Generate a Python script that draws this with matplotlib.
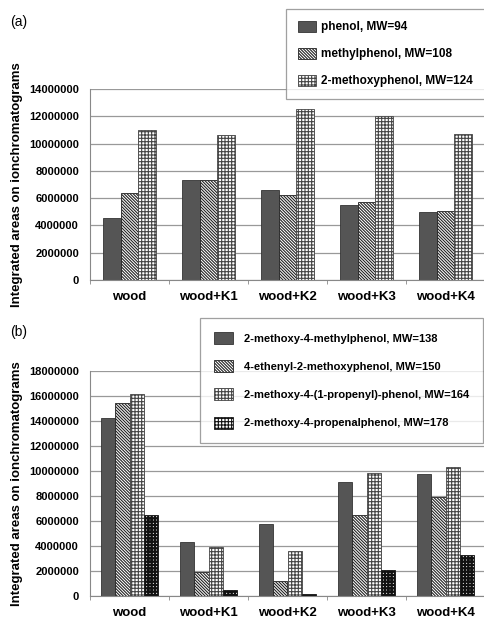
import numpy as np
import matplotlib
matplotlib.use("Agg")
from matplotlib import pyplot as plt

plt.rcParams['font.family'] = ['Liberation Sans', 'DejaVu Sans']
plt.rcParams['hatch.linewidth'] = 0.8

categories = ['wood', 'wood+K1', 'wood+K2', 'wood+K3', 'wood+K4']

labels_a = ['phenol, MW=94', 'methylphenol, MW=108', '2-methoxyphenol, MW=124']
phenol = [4.55e6, 7.3e6, 6.6e6, 5.5e6, 4.95e6]
methylphenol = [6.4e6, 7.35e6, 6.25e6, 5.7e6, 5.05e6]
methoxyphenol = [11.0e6, 10.6e6, 12.5e6, 12.0e6, 10.7e6]

labels_b = ['2-methoxy-4-methylphenol, MW=138', '4-ethenyl-2-methoxyphenol, MW=150',
            '2-methoxy-4-(1-propenyl)-phenol, MW=164', '2-methoxy-4-propenalphenol, MW=178']
s138 = [14.25e6, 4.3e6, 5.75e6, 9.1e6, 9.75e6]
s150 = [15.45e6, 1.95e6, 1.2e6, 6.45e6, 7.9e6]
s164 = [16.2e6, 3.95e6, 3.6e6, 9.85e6, 10.3e6]
s178 = [6.45e6, 0.45e6, 0.2e6, 2.1e6, 3.3e6]

styles = [
    dict(facecolor='#555555', edgecolor='#333333', hatch=None),
    dict(facecolor='white', edgecolor='#222222', hatch='\\' * 11),
    dict(facecolor='white', edgecolor='#444444', hatch='+++++'),
    dict(facecolor='white', edgecolor='#111111', hatch='+++++'),
]


def setup_axes(ax, ymax, step):
    ax.set_xlim(-0.5, 4.44)
    ax.set_ylim(0, ymax)
    ax.set_yticks(np.arange(0, ymax + 1, step))
    ax.set_yticklabels(['%d' % v for v in np.arange(0, ymax + 1, step)],
                       fontsize=8, fontweight='bold')
    ax.yaxis.grid(True, color='#999999', linewidth=0.9)
    ax.set_axisbelow(True)
    ax.set_xticks(range(len(categories)))
    ax.set_xticklabels(categories, fontsize=9.5, fontweight='bold')
    ax.set_xticks(np.arange(-0.5, 5, 1), minor=True)
    ax.tick_params(axis='x', which='major', length=0, pad=8)
    ax.tick_params(axis='x', which='minor', length=3, color='#888888')
    ax.tick_params(axis='y', length=0, pad=8)
    for s in ['top', 'right']:
        ax.spines[s].set_visible(False)
    for s in ['left', 'bottom']:
        ax.spines[s].set_color('#888888')
    ax.set_ylabel('Integrated areas on ionchromatograms', fontsize=9.5,
                  fontweight='bold')


def draw_group(ax, series, width):
    x = np.arange(len(categories))
    n = len(series)
    handles = []
    for i, vals in enumerate(series):
        st = styles[i]
        off = (i - (n - 1) / 2) * width
        if i == 3:
            with plt.rc_context({'hatch.linewidth': 1.6}):
                b = ax.bar(x + off, vals, width, linewidth=0.6, **st)
        else:
            b = ax.bar(x + off, vals, width, linewidth=0.6, **st)
        handles.append(b)
    return handles


fig = plt.figure(figsize=(4.85, 6.2), dpi=100)

ax1 = fig.add_axes([90 / 485, 1 - 280 / 620, 395 / 485, 191 / 620])
h1 = draw_group(ax1, [phenol, methylphenol, methoxyphenol], 0.225)
setup_axes(ax1, 14000000, 2000000)
ax1.yaxis.set_label_coords(-0.17, 0.5)
leg1 = fig.legend(h1, labels_a, loc='upper right', bbox_to_anchor=(1.0, 1 - 9 / 620),
                  prop=dict(weight='bold', size=8.5),
                  frameon=True, fancybox=False, edgecolor='#888888',
                  handlelength=1.5, handleheight=1.1, labelspacing=1.2,
                  borderpad=1.0, handletextpad=0.5, borderaxespad=0)
leg1.get_frame().set_linewidth(0.9)
fig.text(10 / 485, 1 - 22 / 620, '(a)', fontsize=10, va='center')

ax2 = fig.add_axes([90 / 485, 1 - 596 / 620, 395 / 485, 225 / 620])
h2 = draw_group(ax2, [s138, s150, s164, s178], 0.18)
setup_axes(ax2, 18000000, 2000000)
ax2.yaxis.set_label_coords(-0.17, 0.5)
leg2 = fig.legend(h2, labels_b, loc='upper right', bbox_to_anchor=(483 / 485, 1 - 318 / 620),
                  prop=dict(weight='bold', size=8),
                  frameon=True, fancybox=False, edgecolor='#888888',
                  handlelength=1.7, handleheight=1.3, labelspacing=1.45,
                  borderpad=1.25, handletextpad=1.0, borderaxespad=0)
leg2.get_frame().set_linewidth(0.9)
fig.text(10 / 485, 1 - 332 / 620, '(b)', fontsize=10, va='center')

fig.savefig('out.png', dpi=100)
